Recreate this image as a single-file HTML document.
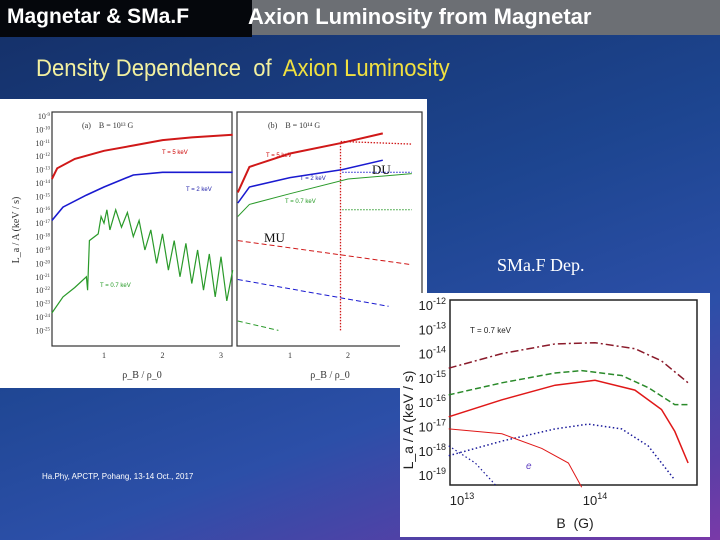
<!DOCTYPE html>
<html><head><meta charset="utf-8"><style>
body{margin:0;width:720px;height:540px;overflow:hidden;position:relative;font-family:"Liberation Sans",sans-serif;
background:linear-gradient(160deg,#142f66 0%,#1d4590 45%,#2c4fa8 70%,#5a3ea6 90%,#7a3aa8 100%);}
.abs{position:absolute}
</style></head><body>
<div class="abs" style="left:240px;top:0;width:480px;height:35px;background:#6c6f74"></div>
<div class="abs" style="left:0;top:0;width:252px;height:37px;background:#05070c"></div>
<div class="abs" style="left:7px;top:5px;color:#fff;font-size:21px;font-weight:bold;font-family:'Liberation Sans','Noto Sans CJK KR',sans-serif">Magnetar &amp; SMa.F</div>
<div class="abs" style="left:248px;top:4px;color:#fff;font-size:22px;font-weight:bold;font-family:'Liberation Sans','Noto Sans CJK KR',sans-serif">Axion Luminosity from Magnetar</div>
<div class="abs" style="left:36px;top:55px;font-size:24px;color:#f2f0a0;transform:scaleX(0.92);transform-origin:left">Density Dependence&nbsp; of&nbsp; <span style="color:#f0e040">Axion Luminosity</span></div>
<div class="abs" style="left:42px;top:472px;font-size:8px;color:#fff">Ha.Phy, APCTP, Pohang, 13-14 Oct., 2017</div>
<svg class="abs" style="left:0;top:0" width="720" height="540">
<rect x="0" y="99" width="427" height="289" fill="#fff"/>
<rect x="52" y="112" width="180" height="234" fill="none" stroke="#333" stroke-width="1.2"/>
<rect x="237" y="112" width="185" height="234" fill="none" stroke="#333" stroke-width="1.2"/>
<g id="la" font-family="Liberation Serif,serif" font-size="8" fill="#333"></g>
<text x="82" y="128" font-family="Liberation Serif,serif" font-size="8" fill="#333">(a)&#160;&#160;&#160; B = 10¹³ G</text>
<text x="268" y="128" font-family="Liberation Serif,serif" font-size="8" fill="#333">(b)&#160;&#160;&#160; B = 10¹⁴ G</text>
<text x="19" y="230" transform="rotate(-90 19 230)" text-anchor="middle" font-family="Liberation Serif,serif" font-size="10" fill="#333">L_a / A (keV / s)</text>
<text x="142" y="378" text-anchor="middle" font-family="Liberation Serif,serif" font-size="10" fill="#333">ρ_B / ρ_0</text>
<text x="330" y="378" text-anchor="middle" font-family="Liberation Serif,serif" font-size="10" fill="#333">ρ_B / ρ_0</text>
<text x="162" y="154" font-size="6" fill="#c00">T = 5 keV</text>
<text x="186" y="191" font-size="6" fill="#22a">T = 2 keV</text>
<text x="100" y="287" font-size="6" fill="#292">T = 0.7 keV</text>
<text x="266" y="157" font-size="6" fill="#c00">T = 5 keV</text>
<text x="300" y="180" font-size="6" fill="#22a">T = 2 keV</text>
<text x="285" y="203" font-size="6" fill="#292">T = 0.7 keV</text>
<rect x="400" y="293" width="310" height="244" fill="#fff"/>
<rect x="450" y="300" width="247" height="185" fill="none" stroke="#222" stroke-width="1.5"/>
<text x="470" y="333" font-size="8" fill="#222">T = 0.7 keV</text>
<text x="413" y="420" transform="rotate(-90 413 420)" text-anchor="middle" font-size="14" fill="#222">L_a / A (keV / s)</text>
<text x="575" y="528" text-anchor="middle" font-size="14" fill="#222">B&#160; (G)</text>
<text x="526" y="469" font-size="10" fill="#6040c0" font-style="italic">e</text>
<g id="ra" font-size="13" fill="#222"></g>
<g id="curves"></g>
</svg>
<div class="abs" style="left:372px;top:162px;font-family:'Liberation Serif',serif;font-size:13px;color:#111">DU</div>
<div class="abs" style="left:264px;top:230px;font-family:'Liberation Serif',serif;font-size:13px;color:#111">MU</div>
<div class="abs" style="left:497px;top:255px;font-family:'Liberation Serif',serif;font-size:18px;color:#fff">SMa.F Dep.</div>
<script>
// Panel a data (rho, log10 L)
const aRho=[0.11,0.2,0.5,1,1.5,2,2.5,3.2];
const aRed=[-13.7,-12.9,-12.2,-11.6,-11.2,-10.8,-10.6,-10.4];
const aBlueRho=[0.11,0.3,0.7,1,1.5,2,2.5,3.2];
const aBlue=[-16.8,-15.8,-14.9,-14.3,-13.4,-13.2,-13.2,-13.2];
const aGreenRho=[0.11,0.3,0.5,0.7,0.72,0.75,0.9,0.95,1.0,1.05,1.1,1.2,1.3,1.4,1.5,1.6,1.7,1.8,1.9,2,2.1,2.2,2.3,2.4,2.5,2.6,2.7,2.8,2.9,3.0,3.1,3.2];
const aGreen=[-23.7,-22.5,-21.8,-21,-22,-18.3,-17.8,-16.5,-17,-16,-17.5,-16,-17.3,-16.2,-18,-16.8,-19,-17.5,-20,-17.8,-20.5,-18.3,-21,-18.5,-21.5,-19,-22,-19.3,-22.5,-19.5,-22.8,-20.5];
// Panel b data
const bRho=[0.1,0.3,1,1.9,2.6];
const bRed=[-14.7,-12.8,-11.8,-11,-10.3];
const bBlue=[-15.5,-14.3,-13.6,-13,-12.3];
const bGreenRho=[0.1,0.3,1,2,3.1];
const bGreen=[-16.5,-15.6,-14.8,-13.7,-13.3];
const bMuRedRho=[0.1,3.1];const bMuRed=[-18.3,-20.1];
const bMuBlueRho=[0.1,2.7];const bMuBlue=[-21.2,-23.2];
const bMuGreenRho=[0.1,0.8];const bMuGreen=[-24.3,-25];
const bDuRedRho=[1.87,1.87,1.9,3.1];const bDuRed=[-25,-10.9,-10.9,-11.1];
const bDuBlueRho=[1.9,3.1];const bDuBlue=[-13.2,-13.2];
const bDuGreenRho=[1.9,3.1];const bDuGreen=[-16,-16];
// Right plot data (log10 B, log10 L)
const rB=[12.9,13.3,13.7,14,14.3,14.5,14.7];
const rDashDot=[-14.6,-14,-13.6,-13.55,-13.8,-14.3,-15.2];
const rGreenB=[12.9,13.3,13.7,13.9,14.2,14.4,14.6,14.7];
const rGreen=[-15.7,-15.2,-14.8,-14.7,-14.9,-15.4,-16.1,-16.1];
const rRedB=[12.9,13.3,13.7,14,14.3,14.5,14.6,14.7];
const rRed=[-16.6,-15.9,-15.3,-15.1,-15.5,-16.3,-17.2,-18.5];
const rBlueB=[12.9,13.3,13.7,13.95,14.2,14.4,14.6];
const rBlue=[-18.2,-17.6,-17.1,-16.9,-17.1,-17.8,-19.2];
const rEredB=[12.9,13.3,13.6,13.8,13.9];const rEred=[-17.1,-17.3,-17.9,-18.5,-19.5];
const rEblueB=[12.9,13.1,13.25];const rEblue=[-17.8,-18.5,-19.4];
const aExp=[-9,-10,-11,-12,-13,-14,-15,-16,-17,-18,-19,-20,-21,-22,-23,-24,-25];
const aXt=[1,2,3];const bXt=[1,2];
const rExp=[-12,-13,-14,-15,-16,-17,-18,-19];const rXt=[13,14];

const NS='http://www.w3.org/2000/svg';
const yA=v=>116+(-9-v)*13.4;
const xA=r=>45.5+r*58.5;
const xB=r=>232+r*58;
const xR=l=>462+(l-13)*133;
const yR=v=>305+(-12-v)*24.3;
const cv=document.getElementById('curves');
function line(xs,ys,fx,fy,color,w,dash,name){
 const p=document.createElementNS(NS,'polyline');
 p.setAttribute('points',xs.map((x,i)=>fx(x).toFixed(1)+','+fy(ys[i]).toFixed(1)).join(' '));
 p.setAttribute('fill','none');p.setAttribute('stroke',color);p.setAttribute('stroke-width',w);
 if(dash)p.setAttribute('stroke-dasharray',dash);
 
 
 cv.appendChild(p);
}
line(aRho,aRed,xA,yA,'#d01818',2,null,'panel-a-red-t5');
line(aBlueRho,aBlue,xA,yA,'#1a1ad0',1.6,null,'panel-a-blue-t2');
line(aGreenRho,aGreen,xA,yA,'#2a9a2a',1.2,null,'panel-a-green-t07');
line(bRho,bRed,xB,yA,'#d01818',2,null,'panel-b-red-t5');
line(bRho,bBlue,xB,yA,'#1a1ad0',1.5,null,'panel-b-blue-t2');
line(bGreenRho,bGreen,xB,yA,'#2a9a2a',1,null,'panel-b-green-t07');
line(bMuRedRho,bMuRed,xB,yA,'#d01818',1,'5,3','panel-b-mu-red');
line(bMuBlueRho,bMuBlue,xB,yA,'#1a1ad0',1,'5,3','panel-b-mu-blue');
line(bMuGreenRho,bMuGreen,xB,yA,'#2a9a2a',1,'5,3','panel-b-mu-green');
line(bDuRedRho,bDuRed,xB,yA,'#d01818',1.3,'1.5,1.5','panel-b-du-red');
line(bDuBlueRho,bDuBlue,xB,yA,'#1a1ad0',1,'1.5,1.5','panel-b-du-blue');
line(bDuGreenRho,bDuGreen,xB,yA,'#2a9a2a',1,'1.5,1.5','panel-b-du-green');
line(rB,rDashDot,xR,yR,'#8a1a2a',1.5,'8,3,2,3','right-dashdot-curve');
line(rGreenB,rGreen,xR,yR,'#2a8a2a',1.5,'6,3','right-green-dashed');
line(rRedB,rRed,xR,yR,'#e01818',1.5,null,'right-red-solid');
line(rBlueB,rBlue,xR,yR,'#1a1a9a',1.5,'1.5,2.5','right-blue-dotted');
line(rEredB,rEred,xR,yR,'#e01818',1,null,'right-red-electron');
line(rEblueB,rEblue,xR,yR,'#1a1a9a',1.2,'1.5,2.5','right-blue-electron');
const la=document.getElementById('la');
function txt(g,x,y,s,anchor,name){
 const t=document.createElementNS(NS,'text');
 t.setAttribute('x',x);t.setAttribute('y',y);t.setAttribute('text-anchor',anchor);
 t.innerHTML=s;
 
 
 g.appendChild(t);
}
aExp.forEach(e=>txt(la,50,yA(e)+3,'10<tspan font-size="5" dy="-3">'+e+'</tspan>','end','panel-a-y-tick'));
aXt.forEach(v=>txt(la,xA(v),358,v,'middle','panel-a-x-tick'));
bXt.forEach(v=>txt(la,xB(v),358,v,'middle','panel-b-x-tick'));
const ra=document.getElementById('ra');
rExp.forEach(e=>txt(ra,446,yR(e)+5,'10<tspan font-size="9" dy="-6">'+e+'</tspan>','end','right-y-tick'));
rXt.forEach(v=>txt(ra,xR(v),505,'10<tspan font-size="9" dy="-6">'+v+'</tspan>','middle','right-x-tick'));
</script>
</body></html>
